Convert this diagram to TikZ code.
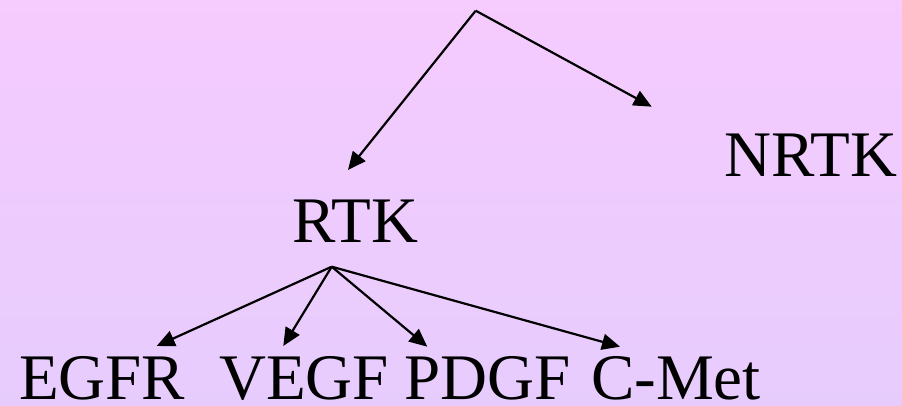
\documentclass[tikz,border=0pt]{standalone}
\usepackage{fontspec}
\setmainfont{Liberation Serif}
\usetikzlibrary{arrows.meta}
\definecolor{bgtop}{RGB}{246,203,254}
\definecolor{bgbot}{RGB}{230,204,253}
\begin{document}
\begin{tikzpicture}[x=1pt,y=1pt,
  lbl/.style={anchor=base west,inner sep=0pt,font=\fontsize{65}{78}\selectfont},
  arr/.style={line width=2.2pt,-{Triangle[length=18pt,width=16pt]}}]
\shade[top color=bgtop,bottom color=bgbot] (0,0) rectangle (902,405);
\useasboundingbox (0,0) rectangle (902,405);
% labels
\node[lbl] (rtk) at (292,162.3) {RTK};
\node[lbl] (nrtk) at (724,229) {NRTK};
\node[lbl] (egfr) at (19,5.5) {EGFR};
\node[lbl] (vegf) at (219,5.5) {VEGF};
\node[lbl] (pdgf) at (404,5.5) {PDGF};
\node[lbl] (cmet) at (591,5.5) {C-Met};
% branch points and tips
\coordinate (top) at (475.7,394.3);
\coordinate (trtk) at (348,235);
\coordinate (tnrtk) at (651.7,298.3);
\coordinate (rk) at (331.7,138.3);
\coordinate (tegfr) at (156.7,59);
\coordinate (tvegf) at (283.3,59);
\coordinate (tpdgf) at (427.3,58.3);
\coordinate (tcmet) at (620,58.3);
\draw[arr] (top) -- (trtk);
\draw[arr] (top) -- (tnrtk);
\draw[arr] (rk) -- (tegfr);
\draw[arr] (rk) -- (tvegf);
\draw[arr] (rk) -- (tpdgf);
\draw[arr] (rk) -- (tcmet);
\end{tikzpicture}
\end{document}
